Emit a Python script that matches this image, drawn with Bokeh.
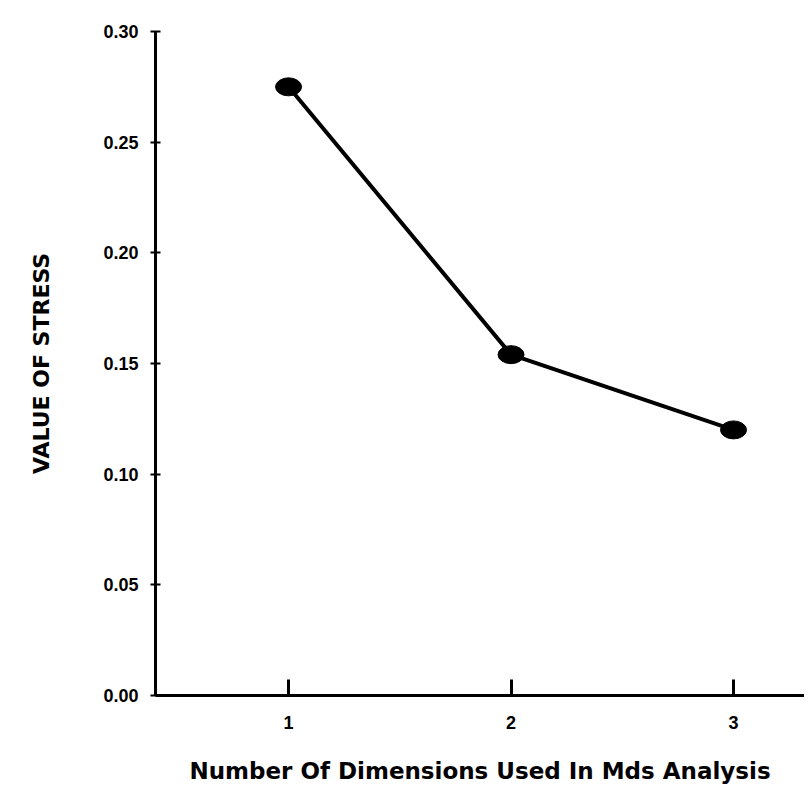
from bokeh.plotting import figure
from bokeh.models import FixedTicker, NumeralTickFormatter, Range1d, ColumnDataSource
from bokeh.embed import file_html
from bokeh.resources import INLINE

dimensions = [1, 2, 3]
stress = [0.275, 0.154, 0.120]
y_ticks = [0.00, 0.05, 0.10, 0.15, 0.20, 0.25, 0.30]
x_ticks = [1, 2, 3]

src = ColumnDataSource(data=dict(x=dimensions, y=stress))

p = figure(width=804, height=790, output_backend="svg", toolbar_location=None,
           x_range=Range1d(0.402, 3.319), y_range=Range1d(0.0, 0.30),
           min_border_left=155, min_border_right=0, min_border_top=31, min_border_bottom=95)
p.outline_line_color = None
p.xgrid.visible = False
p.ygrid.visible = False
p.background_fill_color = "white"
p.border_fill_color = "white"

p.line("x", "y", source=src, line_color="black", line_width=4)
p.ellipse("x", "y", source=src, width=26, height=18, width_units="screen", height_units="screen",
          fill_color="black", line_color="black")

# x axis
xa = p.xaxis[0]
xa.ticker = FixedTicker(ticks=x_ticks)
xa.axis_line_width = 3
xa.axis_line_color = "black"
xa.major_tick_in = 16
xa.major_tick_out = 0
xa.major_tick_line_width = 3
xa.minor_tick_line_color = None
xa.major_label_text_font = "Liberation Sans"
xa.major_label_text_font_style = "bold"
xa.major_label_text_font_size = "18px"
xa.major_label_text_color = "black"
xa.major_label_standoff = 20
xa.axis_label = "Number Of Dimensions Used In Mds Analysis"
xa.axis_label_text_font = "DejaVu Sans"
xa.axis_label_text_font_style = "bold"
xa.axis_label_text_font_size = "23px"
xa.axis_label_text_color = "black"
xa.axis_label_standoff = 26

# y axis
ya = p.yaxis[0]
ya.ticker = FixedTicker(ticks=y_ticks)
ya.formatter = NumeralTickFormatter(format="0.00")
ya.axis_line_width = 3
ya.axis_line_color = "black"
ya.major_tick_in = 5
ya.major_tick_out = 5
ya.major_tick_line_width = 2
ya.minor_tick_line_color = None
ya.major_label_text_font = "Liberation Sans"
ya.major_label_text_font_style = "bold"
ya.major_label_text_font_size = "18px"
ya.major_label_text_color = "black"
ya.major_label_standoff = 12
ya.axis_label = "VALUE OF STRESS"
ya.axis_label_text_font = "DejaVu Sans"
ya.axis_label_text_font_style = "bold"
ya.axis_label_text_font_size = "22px"
ya.axis_label_text_color = "black"
ya.axis_label_standoff = 46

open("out.html", "w").write(file_html(p, INLINE))
